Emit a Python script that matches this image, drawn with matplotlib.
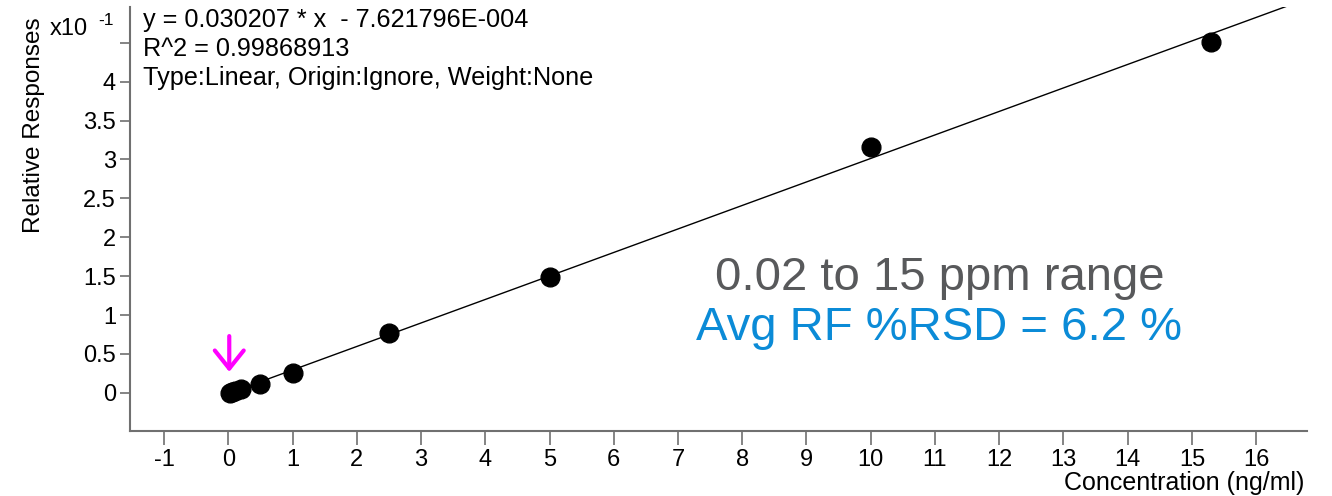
import matplotlib.pyplot as plt
import numpy as np

plt.rcParams["font.family"] = ["Liberation Sans", "DejaVu Sans"]

# calibration levels (ng/ml) and relative responses
concentration = [0.02, 0.05, 0.1, 0.2, 0.5, 1.0, 2.5, 5.0, 10.0, 15.3]
relative_response = [0.000, 0.001, 0.002, 0.005, 0.011, 0.026, 0.077, 0.149, 0.316, 0.451]

slope = 0.030207
intercept = -7.621796e-4
r_squared = 0.99868913
range_text = "0.02 to 15 ppm range"
rsd_text = "Avg RF %RSD = 6.2 %"

x_ticks = list(range(-1, 17))
y_ticks = [0, 0.5, 1, 1.5, 2, 2.5, 3, 3.5, 4, 4.5]
y_tick_labels = ["0", "0.5", "1", "1.5", "2", "2.5", "3", "3.5", "4", ""]

SCALE = 10  # axis shown in units of x10^-1
AXIS_GRAY = "#707070"


def format_sci(value: float) -> str:
    # instrument style: 7.621796E-004
    exponent = int(np.floor(np.log10(abs(value))))
    mantissa = abs(value) / 10 ** exponent
    return f"{mantissa:.6f}E{exponent:04d}"


def main() -> None:
    fig = plt.figure(figsize=(13.32, 4.96), dpi=100)
    ax = fig.add_axes([0.0976, 0.131, 0.8836, 0.855])

    fit_x = np.array([concentration[0], 17.0])
    fit_y = (slope * fit_x + intercept) * SCALE
    ax.plot(fit_x, fit_y, color="black", linewidth=1.0, zorder=2)

    ax.plot(
        concentration,
        np.array(relative_response) * SCALE,
        linestyle="none",
        marker="o",
        markersize=13.5,
        color="black",
        zorder=3,
    )

    ax.set_xlim(-1.53, 16.79)
    ax.set_ylim(-0.49, 4.96)

    ax.set_xticks(x_ticks)
    ax.set_xticklabels([str(t) for t in x_ticks])
    ax.set_yticks(y_ticks)
    ax.set_yticklabels(y_tick_labels)

    ax.tick_params(axis="x", direction="out", length=10, width=1.2,
                   color=AXIS_GRAY, labelsize=17, pad=3)
    ax.tick_params(axis="y", direction="out", length=7, width=1.2,
                   color=AXIS_GRAY, labelsize=17, pad=3)

    for side in ["top", "right"]:
        ax.spines[side].set_visible(False)
    for side in ["left", "bottom"]:
        ax.spines[side].set_color(AXIS_GRAY)
        ax.spines[side].set_linewidth(1.5)

    ax.set_ylabel("Relative Responses", fontsize=17.5)
    ax.yaxis.set_label_coords(-0.072, 0.722)
    ax.set_xlabel("Concentration (ng/ml)", fontsize=18)
    ax.xaxis.set_label_coords(0.998, -0.094)
    ax.xaxis.label.set_horizontalalignment("right")

    # axis multiplier
    fig.text(50 / 1332, 1 - 35 / 496, "x10", fontsize=17, va="baseline")
    fig.text(98 / 1332, 1 - 25 / 496, "-1", fontsize=12.5, va="baseline")

    sign = "-" if intercept < 0 else "+"
    equation = (
        f"y = {slope:.6f} * x  {sign} {format_sci(intercept)}\n"
        f"R^2 = {r_squared:.8f}\n"
        "Type:Linear, Origin:Ignore, Weight:None"
    )
    ax.text(0.011, 0.997, equation, transform=ax.transAxes, fontsize=18.2,
            va="top", ha="left", linespacing=1.27)

    ax.annotate(
        "",
        xy=(0.015, 0.27),
        xytext=(0.015, 0.73),
        arrowprops=dict(arrowstyle="->,head_length=0.65,head_width=0.52",
                        mutation_scale=20, shrinkA=0, shrinkB=0,
                        color="#ff00ff", linewidth=3),
    )

    ax.text(11.07, 1.326, range_text, fontsize=34, color="#58595b",
            ha="center", va="baseline")
    ax.text(11.07, 0.68, rsd_text, fontsize=34, color="#0b8bd7",
            ha="center", va="baseline")

    fig.savefig("out.png", dpi=100)
    plt.close(fig)


if __name__ == "__main__":
    main()
